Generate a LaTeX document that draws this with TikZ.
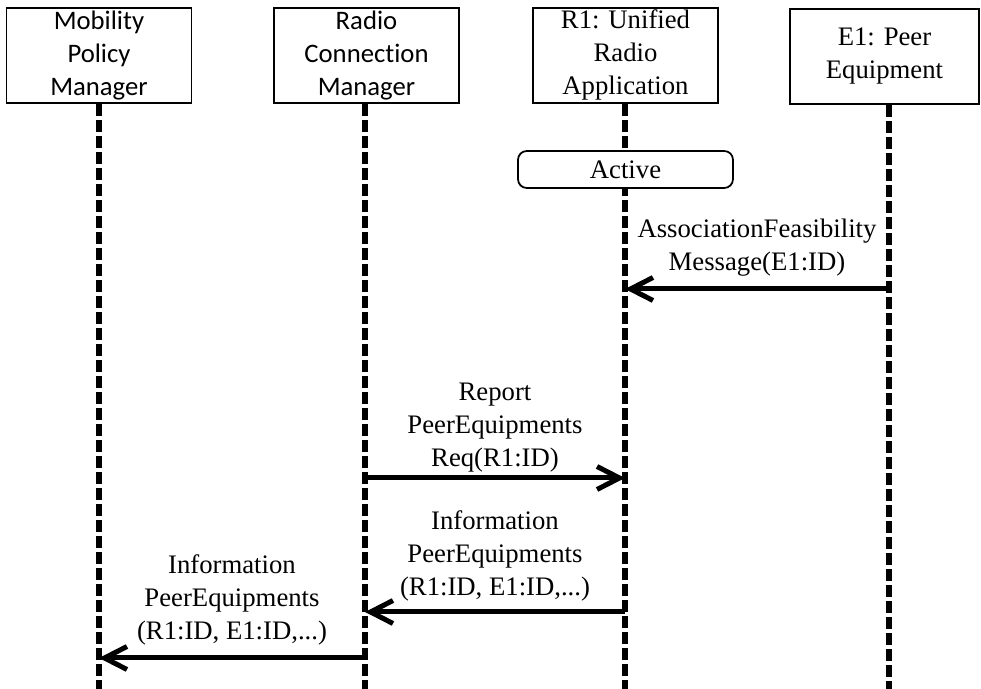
\documentclass[tikz,border=0pt]{standalone}
\usepackage{fontspec}
\setmainfont{Liberation Serif}
\newfontfamily\boxsans[Ligatures={NoCommon,NoRequired,NoContextual}]{Carlito}
\usetikzlibrary{arrows.meta}

\begin{document}
\begin{tikzpicture}[
			every node/.style={font=\fontsize{15.2}{18.8}\selectfont},
			head/.style={draw, line width=1pt, fill=white, minimum width=3.7cm, minimum height=1.9cm, align=center, inner sep=1pt},
			state/.style={draw, line width=1pt, fill=white, rounded corners=5pt, minimum width=4.3cm, minimum height=0.74cm, inner sep=1pt},
			lifeline/.style={line width=0.11cm, dash pattern=on 0.24cm off 0.08cm},
			msg/.style={line width=0.1cm, -{Straight Barb[length=0.45cm, width=0.46cm, line width=0.1cm]}},
			msglabel/.style={align=center, inner sep=2pt}
			]
			\useasboundingbox (0,0) rectangle (19.62,-13.78);
			
			% Heads
			\node (mpm) [head, anchor=north] at (1.98,-0.14) {\boxsans Mobility\\\boxsans Policy\\\boxsans Manager};
			\node (rcm) [head, anchor=north] at (7.33,-0.14) {\boxsans Radio\\\boxsans Connec\kern0pt tion\\\boxsans Manager};
			\node (r1) [head, anchor=north] at (12.51,-0.14) {R1: Unified\\Radio\\Application};
			\node (e1) [head, anchor=north, minimum width=3.78cm] at (17.69,-0.16) {E1: Peer\\Equipment};
			
			% Lifelines
			\coordinate (mpm_end) at (1.98,-13.78);
			\coordinate (rcm_end) at (7.30,-13.78);
			\coordinate (r1_end) at (12.50,-13.78);
			\coordinate (e1_end) at (17.78,-13.78);
			\draw[lifeline] (mpm.south-|mpm_end) -- (mpm_end);
			\draw[lifeline] (rcm.south-|rcm_end) -- (rcm_end);
			\draw[lifeline] (r1.south-|r1_end) -- (r1_end);
			\draw[lifeline] (e1.south-|e1_end) -- (e1_end);
			
			% State
			\node (active) [state] at (12.51,-3.39) {Active};
			
			% Messages
			\draw[msg] (e1_end|-0,-5.78) -- (r1_end|-0,-5.78)
				node[msglabel, midway, above, yshift=0.14cm] {AssociationFeasibility\\Message(E1:ID)};
			\draw[msg] (rcm_end|-0,-9.56) -- (r1_end|-0,-9.56)
				node[msglabel, midway, above] {Report\\PeerEquipments\\Req(R1:ID)};
			\draw[msg] (r1_end|-0,-12.24) -- (rcm_end|-0,-12.24)
				node[msglabel, midway, above, yshift=0.1cm] {Information\\PeerEquipments\\(R1:ID, E1:ID,...)};
			\draw[msg] (rcm_end|-0,-13.16) -- (mpm_end|-0,-13.16)
				node[msglabel, midway, above, yshift=0.14cm] {Information\\PeerEquipments\\(R1:ID, E1:ID,...)};
		\end{tikzpicture}
\end{document}
